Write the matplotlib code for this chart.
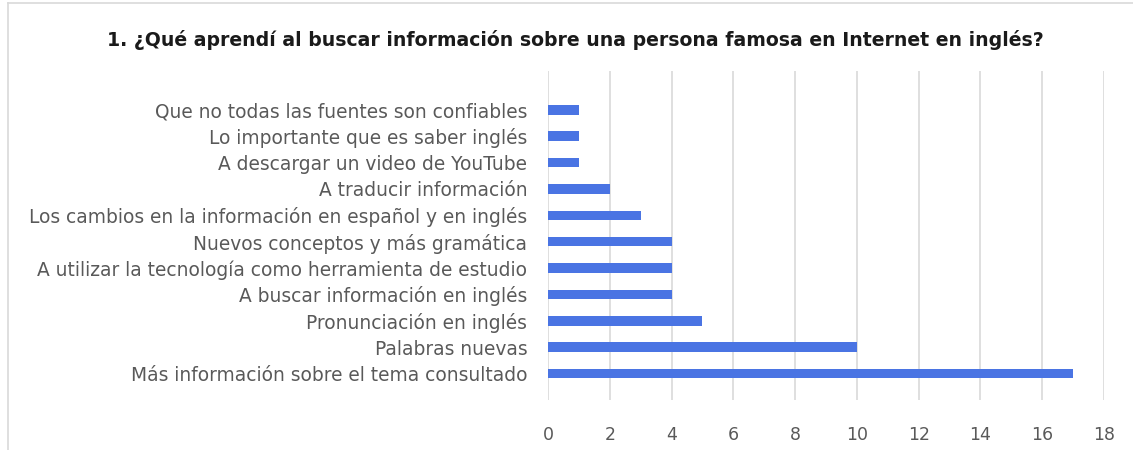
import matplotlib.pyplot as plt
from matplotlib.lines import Line2D

# Data (bottom to top, as drawn)
categories = [
    'Más información sobre el tema consultado',
    'Palabras nuevas',
    'Pronunciación en inglés',
    'A buscar información en inglés',
    'A utilizar la tecnología como herramienta de estudio',
    'Nuevos conceptos y más gramática',
    'Los cambios en la información en español y en inglés',
    'A traducir información',
    'A descargar un video de YouTube',
    'Lo importante que es saber inglés',
    'Que no todas las fuentes son confiables',
]
counts = [17, 10, 5, 4, 4, 4, 3, 2, 1, 1, 1]
x_ticks = [0, 2, 4, 6, 8, 10, 12, 14, 16, 18]

title = '1. ¿Qué aprendí al buscar información sobre una persona famosa en Internet en inglés?'

plt.rcParams['font.family'] = ['DejaVu Sans']

fig = plt.figure(figsize=(11.33, 4.5), dpi=100)
ax = fig.add_axes([548 / 1133, 1 - 400 / 450, (1104 - 548) / 1133, (400 - 71) / 450])

pos = list(range(len(categories)))
ax.barh(pos, counts, height=0.36, color='#4a74e3', zorder=3)

ax.set_xlim(0, 18)
ax.set_ylim(-1.0, 11.47)
ax.set_xticks(x_ticks)
ax.set_yticks(pos)
ax.set_yticklabels(categories)
ax.tick_params(axis='y', length=0, colors='#595959', labelsize=13.4, pad=15)
ax.tick_params(axis='x', length=0, colors='#595959', labelsize=12.5, pad=19)
ax.grid(axis='x', color='#d9d9d9', linewidth=1.2, zorder=0)
for s in ax.spines.values():
    s.set_visible(False)

fig.text(575 / 1133, 1 - 40 / 450, title, ha='center', va='center',
         fontsize=13.6, fontweight='bold', color='#1a1a1a')

# chart border (spreadsheet frame)
fig.add_artist(Line2D([8 / 1133, 8 / 1133], [0, 1 - 3 / 450], transform=fig.transFigure,
                      color='#d9d9d9', linewidth=1.2))
fig.add_artist(Line2D([8 / 1133, 1], [1 - 3 / 450, 1 - 3 / 450], transform=fig.transFigure,
                      color='#d9d9d9', linewidth=1.2))

fig.savefig('out.png', dpi=100)
